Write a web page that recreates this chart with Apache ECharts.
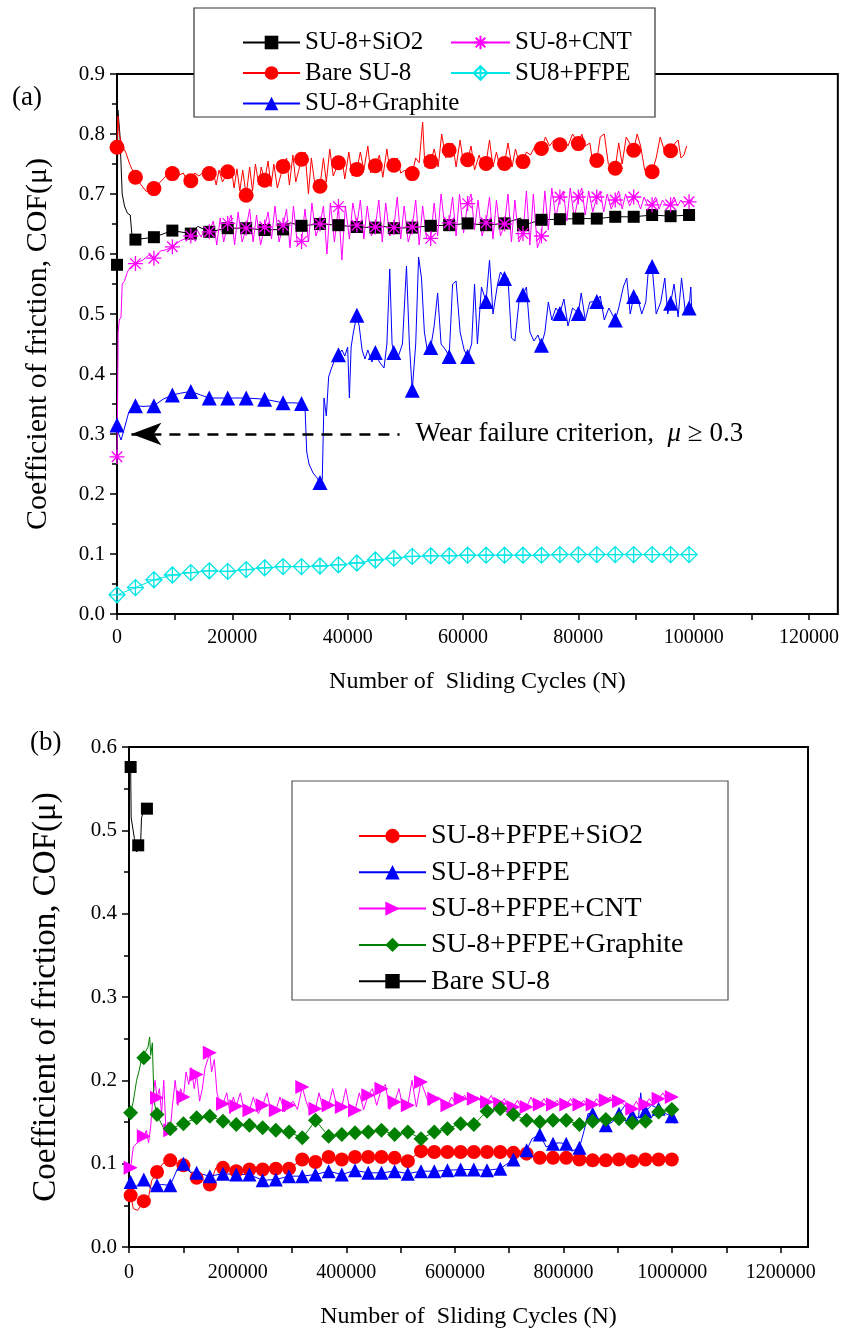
<!DOCTYPE html>
<html>
<head>
<meta charset="utf-8">
<script src="https://cdn.jsdelivr.net/npm/echarts@6/dist/echarts.min.js"></script>
<style>
html, body { margin: 0; padding: 0; background: #fff; }
#chart { width: 842px; height: 1336px; }
</style>
</head>
<body>
<div id="chart"></div>
<script>
// ---------- (a) 0 - 100000 cycles ----------
const aMarkX = [0, 3200, 6400, 9600, 12800, 16000, 19200, 22400, 25600, 28800, 32000, 35200, 38400, 41600, 44800, 48000,
  51200, 54400, 57600, 60800, 64000, 67200, 70400, 73600, 76800, 80000, 83200, 86400, 89600, 92800, 96000, 99200];

const aSio2 = [0.582, 0.624, 0.628, 0.639, 0.634, 0.637, 0.643, 0.643, 0.640, 0.641, 0.647, 0.650, 0.648, 0.645, 0.644, 0.643,
  0.644, 0.647, 0.648, 0.651, 0.648, 0.651, 0.648, 0.657, 0.658, 0.659, 0.659, 0.662, 0.662, 0.665, 0.663, 0.665];
const aSio2Trace = [[150, 0.84], [500, 0.80], [900, 0.70], [1300, 0.68], [1800, 0.668], [2300, 0.665], [2600, 0.63], [2900, 0.62],
  [14000, 0.646], [30000, 0.652], [45000, 0.648], [70000, 0.66], [99700, 0.668]];

const aBare = [0.778, 0.728, 0.709, 0.734, 0.722, 0.734, 0.737, 0.698, 0.723, 0.746, 0.758, 0.713, 0.752, 0.741, 0.747, 0.748,
  0.734, 0.754, 0.773, 0.757, 0.751, 0.751, 0.754, 0.776, 0.782, 0.784, 0.756, 0.743, 0.773, 0.737, 0.772];
const aBareTrace = [[150, 0.83], [400, 0.80], [900, 0.78], [1500, 0.77], [2200, 0.75], [4200, 0.715], [5000, 0.705], [5600, 0.703],
  [7500, 0.72], [8500, 0.73], [10500, 0.73], [11500, 0.735], [12000, 0.725], [13500, 0.735], [14200, 0.73], [15200, 0.738],
  [16600, 0.74], [17200, 0.715], [17700, 0.74], [18300, 0.72], [19800, 0.745], [20300, 0.71], [20800, 0.742], [21300, 0.705],
  [21800, 0.74], [23000, 0.745], [23500, 0.705], [24000, 0.75], [24600, 0.715], [25000, 0.745], [26200, 0.755], [26700, 0.712],
  [27200, 0.75], [27800, 0.71], [29400, 0.76], [29900, 0.715], [30500, 0.765], [31000, 0.72], [32600, 0.77], [33200, 0.70],
  [33700, 0.76], [34400, 0.71], [35800, 0.76], [36300, 0.72], [36900, 0.775], [37500, 0.73], [39000, 0.76], [39500, 0.725],
  [40200, 0.77], [40800, 0.73], [42200, 0.77], [42800, 0.74], [43500, 0.78], [44000, 0.735], [45500, 0.765], [46100, 0.728],
  [46800, 0.775], [47300, 0.74], [48600, 0.76], [49200, 0.735], [50000, 0.74], [50500, 0.725], [51800, 0.76], [52400, 0.752],
  [53000, 0.82], [53400, 0.745], [55000, 0.775], [55700, 0.745], [56300, 0.80], [57000, 0.76], [58200, 0.785], [58800, 0.745],
  [59500, 0.79], [60100, 0.75], [61400, 0.78], [62000, 0.74], [62800, 0.765], [63400, 0.745], [64600, 0.79], [65200, 0.745],
  [65800, 0.77], [66500, 0.74], [67800, 0.785], [68500, 0.745], [69100, 0.775], [69800, 0.75], [71000, 0.77], [71700, 0.765],
  [72500, 0.78], [74300, 0.795], [75000, 0.78], [75800, 0.79], [77500, 0.79], [78200, 0.78], [79000, 0.80], [80600, 0.80],
  [81200, 0.78], [82000, 0.785], [82600, 0.745], [83800, 0.795], [84500, 0.80], [85200, 0.75], [87000, 0.785], [87600, 0.75],
  [88300, 0.795], [90200, 0.80], [90800, 0.78], [91500, 0.74], [93500, 0.76], [94200, 0.795], [95000, 0.77], [96800, 0.785],
  [97300, 0.79], [97800, 0.76], [98300, 0.765], [98800, 0.78]];

const aGraphite = [0.315, 0.347, 0.347, 0.365, 0.371, 0.360, 0.360, 0.360, 0.358, 0.352, 0.351, 0.219, 0.432, 0.498, 0.436, 0.436,
  0.373, 0.444, 0.429, 0.429, 0.521, 0.559, 0.532, 0.448, 0.501, 0.501, 0.521, 0.490, 0.529, 0.579, 0.518, 0.510];
const aGraphiteTrace = [[300, 0.30], [700, 0.29], [1300, 0.31], [2000, 0.335], [2600, 0.345], [4500, 0.346], [8000, 0.358],
  [11000, 0.368], [14500, 0.365], [30500, 0.352], [32600, 0.345], [32900, 0.27], [33300, 0.25], [34000, 0.235], [34600, 0.228],
  [35600, 0.225], [35900, 0.36], [36300, 0.33], [36700, 0.395], [37200, 0.41], [37800, 0.425], [39000, 0.44], [39500, 0.43],
  [40000, 0.445], [40300, 0.36], [40600, 0.445], [41000, 0.47], [42000, 0.48], [42500, 0.44], [43000, 0.425], [43500, 0.44],
  [44200, 0.42], [45500, 0.42], [46300, 0.41], [46800, 0.45], [47300, 0.575], [47700, 0.45], [48800, 0.43], [49500, 0.45],
  [50200, 0.58], [50700, 0.45], [51800, 0.45], [52300, 0.595], [52800, 0.56], [53300, 0.47], [53800, 0.44], [55000, 0.48],
  [55600, 0.535], [56200, 0.45], [57000, 0.44], [58200, 0.55], [58800, 0.555], [59500, 0.47], [60200, 0.44], [61500, 0.45],
  [62000, 0.55], [62500, 0.45], [63200, 0.545], [64600, 0.59], [65200, 0.50], [66000, 0.55], [66500, 0.57], [67800, 0.56],
  [68400, 0.46], [69000, 0.455], [69700, 0.52], [71000, 0.545], [71600, 0.47], [72300, 0.455], [73000, 0.465], [74200, 0.47],
  [74800, 0.52], [75400, 0.49], [76100, 0.51], [77500, 0.525], [78200, 0.48], [79000, 0.51], [80500, 0.535], [81200, 0.49],
  [82000, 0.52], [83800, 0.53], [84500, 0.49], [85300, 0.51], [87000, 0.51], [87800, 0.545], [88400, 0.56], [89000, 0.50],
  [90200, 0.53], [91000, 0.50], [91700, 0.52], [92200, 0.58], [93500, 0.50], [94300, 0.52], [95000, 0.56], [95500, 0.50],
  [96600, 0.55], [97300, 0.495], [97900, 0.56], [98600, 0.50], [99500, 0.545], [99700, 0.50]];

const aCnt = [0.262, 0.584, 0.593, 0.612, 0.630, 0.637, 0.651, 0.643, 0.645, 0.648, 0.621, 0.650, 0.679, 0.648, 0.645, 0.644,
  0.645, 0.626, 0.652, 0.684, 0.652, 0.650, 0.634, 0.630, 0.695, 0.695, 0.695, 0.690, 0.695, 0.682, 0.682, 0.687];
const aCntTrace = [[100, 0.35], [200, 0.47], [400, 0.49], [700, 0.495], [900, 0.55], [1300, 0.555], [1800, 0.57], [2300, 0.578],
  [4500, 0.59], [5500, 0.598], [7500, 0.605], [8500, 0.607], [11000, 0.622], [13800, 0.642], [14600, 0.628], [15300, 0.645],
  [16700, 0.655], [17300, 0.615], [17900, 0.66], [18500, 0.62], [19800, 0.665], [20400, 0.615], [21000, 0.67], [21700, 0.62],
  [23000, 0.675], [23600, 0.62], [24200, 0.665], [24900, 0.615], [26200, 0.67], [26800, 0.625], [27400, 0.68], [28100, 0.62],
  [29400, 0.675], [30000, 0.61], [30600, 0.68], [31300, 0.615], [32600, 0.675], [33200, 0.62], [33800, 0.685], [34500, 0.63],
  [35800, 0.68], [36400, 0.60], [37000, 0.685], [37700, 0.62], [39000, 0.59], [39600, 0.68], [40300, 0.625], [40900, 0.685],
  [42200, 0.69], [42800, 0.625], [43400, 0.68], [44100, 0.63], [45400, 0.69], [46000, 0.62], [46600, 0.685], [47300, 0.63],
  [48600, 0.695], [49200, 0.625], [49800, 0.68], [50500, 0.62], [51800, 0.69], [52400, 0.615], [53000, 0.68], [53700, 0.625],
  [55000, 0.685], [55600, 0.63], [56200, 0.70], [56900, 0.64], [58200, 0.695], [58800, 0.63], [59400, 0.70], [60100, 0.635],
  [61400, 0.70], [62000, 0.64], [62600, 0.69], [63300, 0.63], [64600, 0.695], [65200, 0.625], [65800, 0.69], [66500, 0.63],
  [67800, 0.70], [68400, 0.62], [69000, 0.69], [69700, 0.62], [71000, 0.705], [71600, 0.615], [72200, 0.70], [72900, 0.61],
  [74200, 0.705], [74800, 0.64], [75400, 0.71], [76100, 0.66], [77400, 0.705], [78000, 0.655], [78600, 0.71], [79300, 0.66],
  [80600, 0.71], [81200, 0.665], [81800, 0.705], [82500, 0.67], [83800, 0.705], [84400, 0.67], [85000, 0.70], [85700, 0.675],
  [87000, 0.705], [87600, 0.675], [88200, 0.70], [88900, 0.68], [90200, 0.69], [90800, 0.675], [91400, 0.695], [92100, 0.68],
  [93400, 0.695], [94000, 0.675], [94600, 0.69], [95300, 0.68], [96600, 0.695], [97200, 0.68], [97800, 0.69], [98500, 0.68],
  [99800, 0.69]];

const aPfpe = [0.032, 0.044, 0.057, 0.065, 0.069, 0.072, 0.071, 0.074, 0.077, 0.079, 0.079, 0.080, 0.082, 0.085, 0.090, 0.093,
  0.096, 0.097, 0.097, 0.098, 0.098, 0.098, 0.098, 0.098, 0.099, 0.099, 0.099, 0.099, 0.099, 0.099, 0.099, 0.099];

const aXLabels = [0, 20000, 40000, 60000, 80000, 100000, 120000];
const aXTicks = [0, 10000, 20000, 30000, 40000, 50000, 60000, 70000, 80000, 90000, 100000, 110000, 120000];

// ---------- (b) 0 - 1000000 cycles ----------
const bMarkX = [3000, 27300, 51600, 75900, 100200, 124500, 148800, 173100, 197400, 221700, 246000, 270300, 294600, 318900,
  343200, 367500, 391800, 416100, 440400, 464700, 489000, 513300, 537600, 561900, 586200, 610500, 634800, 659100, 683400,
  707700, 732000, 756300, 780600, 804900, 829200, 853500, 877800, 902100, 926400, 950700, 975000, 999300];

const bSio2 = [0.062, 0.055, 0.090, 0.104, 0.098, 0.083, 0.075, 0.095, 0.091, 0.093, 0.093, 0.094, 0.094, 0.105, 0.102, 0.108,
  0.105, 0.108, 0.108, 0.108, 0.107, 0.103, 0.115, 0.114, 0.114, 0.114, 0.114, 0.114, 0.114, 0.113, 0.112, 0.107, 0.107, 0.107,
  0.105, 0.104, 0.104, 0.105, 0.103, 0.105, 0.105, 0.105];
const bSio2Trace = [[0, 0.065], [8000, 0.046], [16000, 0.044], [36000, 0.06], [42000, 0.08], [62000, 0.10], [88000, 0.10],
  [112000, 0.09], [135000, 0.08], [160000, 0.095], [505000, 0.10], [690000, 0.118], [720000, 0.112], [1000000, 0.105]];

const bPfpe = [0.078, 0.081, 0.074, 0.074, 0.100, 0.089, 0.085, 0.088, 0.087, 0.087, 0.080, 0.081, 0.085, 0.085, 0.087, 0.091,
  0.087, 0.092, 0.089, 0.089, 0.091, 0.088, 0.091, 0.091, 0.092, 0.093, 0.093, 0.092, 0.094, 0.105, 0.116, 0.135, 0.124, 0.124,
  0.119, 0.160, 0.146, 0.160, 0.158, 0.163, 0.166, 0.157];
const bPfpeTrace = [[0, 0.075], [12000, 0.072], [40000, 0.07], [60000, 0.075], [90000, 0.095], [112000, 0.09], [720000, 0.11],
  [742000, 0.13], [768000, 0.12], [792000, 0.125], [815000, 0.115], [838000, 0.14], [845000, 0.16], [890000, 0.15],
  [913000, 0.17], [938000, 0.155], [942000, 0.185], [946000, 0.16], [962000, 0.17], [988000, 0.16], [1005000, 0.148]];

const bCnt = [0.095, 0.133, 0.179, 0.140, 0.180, 0.207, 0.233, 0.172, 0.169, 0.164, 0.170, 0.164, 0.170, 0.192, 0.166, 0.170,
  0.168, 0.164, 0.182, 0.190, 0.174, 0.170, 0.198, 0.178, 0.170, 0.178, 0.178, 0.174, 0.172, 0.168, 0.168, 0.171, 0.171, 0.171,
  0.171, 0.171, 0.176, 0.175, 0.166, 0.171, 0.178, 0.180];
const bCntTrace = [[0, 0.095], [4000, 0.10], [8000, 0.12], [15000, 0.125], [20000, 0.13], [32000, 0.14], [36000, 0.125],
  [40000, 0.145], [44000, 0.18], [48000, 0.20], [56000, 0.19], [60000, 0.16], [64000, 0.20], [68000, 0.14], [72000, 0.15],
  [80000, 0.17], [85000, 0.20], [90000, 0.17], [95000, 0.19], [105000, 0.21], [110000, 0.195], [115000, 0.215], [120000, 0.19],
  [130000, 0.175], [135000, 0.19], [140000, 0.215], [145000, 0.225], [152000, 0.21], [157000, 0.225], [162000, 0.185],
  [166000, 0.175], [180000, 0.185], [186000, 0.16], [192000, 0.18], [205000, 0.185], [213000, 0.16], [229000, 0.18],
  [238000, 0.16], [254000, 0.185], [262000, 0.16], [278000, 0.18], [286000, 0.162], [302000, 0.175], [310000, 0.165],
  [326000, 0.175], [334000, 0.16], [350000, 0.185], [358000, 0.163], [375000, 0.19], [384000, 0.165], [399000, 0.19],
  [408000, 0.16], [424000, 0.185], [432000, 0.165], [448000, 0.19], [456000, 0.17], [472000, 0.195], [480000, 0.165],
  [497000, 0.19], [505000, 0.165], [521000, 0.20], [529000, 0.168], [545000, 0.185], [553000, 0.17], [570000, 0.18],
  [578000, 0.17], [594000, 0.18], [602000, 0.172], [618000, 0.182], [626000, 0.172], [642000, 0.18], [650000, 0.172],
  [667000, 0.182], [675000, 0.168], [691000, 0.178], [699000, 0.166], [715000, 0.176], [723000, 0.166], [740000, 0.18],
  [748000, 0.168], [764000, 0.178], [772000, 0.168], [788000, 0.176], [796000, 0.168], [813000, 0.178], [821000, 0.168],
  [837000, 0.176], [845000, 0.168], [861000, 0.178], [869000, 0.17], [886000, 0.18], [894000, 0.17], [910000, 0.172],
  [918000, 0.165], [934000, 0.175], [942000, 0.165], [958000, 0.178], [966000, 0.17], [983000, 0.185], [991000, 0.175],
  [1005000, 0.178]];

const bGraphite = [0.161, 0.227, 0.159, 0.142, 0.148, 0.155, 0.157, 0.151, 0.147, 0.146, 0.143, 0.140, 0.138, 0.131, 0.152,
  0.133, 0.135, 0.137, 0.138, 0.140, 0.135, 0.138, 0.130, 0.138, 0.142, 0.148, 0.147, 0.163, 0.166, 0.159, 0.152, 0.150, 0.152,
  0.152, 0.147, 0.151, 0.153, 0.154, 0.149, 0.151, 0.162, 0.165];
const bGraphiteTrace = [[8000, 0.175], [14000, 0.20], [18000, 0.21], [22000, 0.222], [31000, 0.235], [35000, 0.24],
  [38000, 0.252], [40000, 0.23], [43000, 0.245], [46000, 0.175], [58000, 0.15], [66000, 0.14], [330000, 0.14],
  [1005000, 0.17]];

const bBareX = [3000, 17000, 33000];
const bBare = [0.576, 0.482, 0.526];
const bBareTrace = [[4000, 0.515], [10000, 0.49], [14000, 0.474], [21000, 0.476], [23000, 0.515], [28000, 0.525]];

const bXLabels = [0, 200000, 400000, 600000, 800000, 1000000, 1200000];
const bXTicks = [0, 100000, 200000, 300000, 400000, 500000, 600000, 700000, 800000, 900000, 1000000, 1100000, 1200000];

// ---------- helpers ----------
const FONT = 'Liberation Serif';

// merge marker points (with symbol) and trace points (line only), sorted by x
function build(markX, markY, trace) {
  const pts = markY.map((y, i) => ({ value: [markX[i], y], mark: true }));
  (trace || []).forEach(p => pts.push({ value: p, mark: false }));
  pts.sort((p, q) => p.value[0] - q.value[0]);
  return pts.map(p => p.mark ? { value: p.value } : { value: p.value, symbol: 'none' });
}

function series(name, data, color, symbol, size, gi, hollow) {
  return {
    name: name,
    type: 'line',
    xAxisIndex: gi,
    yAxisIndex: gi,
    data: data,
    symbol: symbol,
    symbolSize: size,
    showAllSymbol: true,
    animation: false,
    lineStyle: { color: color, width: 1 },
    itemStyle: hollow
      ? { color: 'rgba(255,255,255,0)', borderColor: color, borderWidth: 1.3 }
      : { color: color },
    emphasis: { disabled: true }
  };
}

const ASTER = 'path://M10,0 L10,20 M0,10 L20,10 M3,3 L17,17 M3,17 L17,3';
const DIAMOND_X = 'path://M10,0 L20,10 L10,20 L0,10 Z M10,0 L10,20 M0,10 L20,10';
const RTRI = 'path://M0,0 L20,10 L0,20 Z';

function xAxis(gi, max, labels, ticks, margin, nameGap) {
  return {
    gridIndex: gi, type: 'value', min: 0, max: max,
    name: 'Number of  Sliding Cycles (N)', nameLocation: 'middle', nameGap: nameGap,
    nameTextStyle: { fontFamily: FONT, fontSize: 24, color: '#000' },
    axisLine: { show: true, lineStyle: { color: '#000', width: 2 } },
    axisTick: { show: true, inside: false, length: 6, customValues: ticks, lineStyle: { color: '#000', width: 1.5 } },
    axisLabel: { customValues: labels, margin: margin, fontFamily: FONT, fontSize: 20, color: '#000',
      formatter: v => String(v) },
    splitLine: { show: false }
  };
}

function yAxis(gi, max, nameGap, nameSize) {
  return {
    gridIndex: gi, type: 'value', min: 0, max: max, interval: 0.1,
    name: 'Coefficient of friction, COF(\u03bc)', nameLocation: 'middle', nameGap: nameGap,
    nameTextStyle: { fontFamily: FONT, fontSize: nameSize, color: '#000' },
    axisLine: { show: true, onZero: false, lineStyle: { color: '#000', width: 2 } },
    axisTick: { show: true, inside: false, length: 7, lineStyle: { color: '#000', width: 1.5 } },
    minorTick: { show: true, splitNumber: 2, length: 5, lineStyle: { color: '#000', width: 1.5 } },
    axisLabel: { margin: 12, fontFamily: FONT, fontSize: 21, color: '#000', formatter: v => v.toFixed(1) },
    splitLine: { show: false }
  };
}

function legend(left, top, names, itemW, itemH, fontSize, gap) {
  return {
    left: left, top: top, orient: 'vertical', data: names,
    itemWidth: itemW, itemHeight: itemH, itemGap: gap, padding: 0, z: 20,
    selectedMode: false,
    textStyle: { fontFamily: FONT, fontSize: fontSize, color: '#000', lineHeight: fontSize }
  };
}

const chart = echarts.init(document.getElementById('chart'), null, { renderer: 'canvas' });

const criterion = {
  name: 'criterion', type: 'line', xAxisIndex: 0, yAxisIndex: 0, data: [], animation: false,
  markLine: {
    silent: true,
    symbol: ['arrow', 'none'],
    symbolSize: [17, 30],
    lineStyle: { color: '#000', width: 2.5, type: [11, 8] },
    label: {
      show: true, position: 'end', distance: 16,
      formatter: '{t|Wear failure criterion,  }{m|\u03bc}{t| \u2265 0.3}',
      rich: {
        t: { fontFamily: FONT, fontSize: 27, color: '#000' },
        m: { fontFamily: FONT, fontSize: 27, color: '#000', fontStyle: 'italic' }
      }
    },
    data: [[{ coord: [2500, 0.3] }, { coord: [49000, 0.3] }]]
  }
};

chart.setOption({
  backgroundColor: '#fff',
  animation: false,
  grid: [
    { left: 117, top: 74, width: 722, height: 540, show: true, borderColor: '#000', borderWidth: 2, backgroundColor: 'transparent' },
    { left: 129, top: 747, width: 679, height: 500, show: true, borderColor: '#000', borderWidth: 2, backgroundColor: 'transparent' }
  ],
  xAxis: [
    xAxis(0, 125000, aXLabels, aXTicks, 14, 56),
    xAxis(1, 1250000, bXLabels, bXTicks, 16, 58)
  ],
  yAxis: [
    yAxis(0, 0.9, 64, 30),
    yAxis(1, 0.6, 66, 33)
  ],
  legend: [
    legend(242, 30, ['SU-8+SiO2', 'Bare SU-8', 'SU-8+Graphite'], 57, 17, 25, 5.5),
    legend(450, 30, ['SU-8+CNT', 'SU8+PFPE'], 59, 17, 25, 5.5),
    legend(358, 822, ['SU-8+PFPE+SiO2', 'SU-8+PFPE', 'SU-8+PFPE+CNT', 'SU-8+PFPE+Graphite', 'Bare SU-8 '], 67, 18, 28, 8.3)
  ],
  graphic: [
    { type: 'rect', z: 10, shape: { x: 194, y: 8, width: 461, height: 109 },
      style: { fill: '#fff', stroke: '#333', lineWidth: 1.2 } },
    { type: 'rect', z: 10, shape: { x: 292, y: 781, width: 436, height: 219 },
      style: { fill: '#fff', stroke: '#555', lineWidth: 1.2 } },
    { type: 'text', z: 10, left: 12, top: 84, style: { text: '(a)', fontFamily: FONT, fontSize: 27, fill: '#000' } },
    { type: 'text', z: 10, left: 30, top: 729, style: { text: '(b)', fontFamily: FONT, fontSize: 27, fill: '#000' } }
  ],
  series: [
    series('SU-8+SiO2', build(aMarkX, aSio2, aSio2Trace), '#000000', 'rect', 12, 0),
    series('Bare SU-8', build(aMarkX, aBare, aBareTrace), '#ff0000', 'circle', 15, 0),
    series('SU-8+Graphite', build(aMarkX, aGraphite, aGraphiteTrace), '#0000ff', 'triangle', 15, 0),
    series('SU-8+CNT', build(aMarkX, aCnt, aCntTrace), '#ff00ff', ASTER, 15, 0, true),
    series('SU8+PFPE', build(aMarkX, aPfpe, []), '#00e5e5', DIAMOND_X, 16, 0, true),
    criterion,
    series('SU-8+PFPE+SiO2', build(bMarkX, bSio2, bSio2Trace), '#ff0000', 'circle', 14, 1),
    series('SU-8+PFPE', build(bMarkX, bPfpe, bPfpeTrace), '#0000ff', 'triangle', 14, 1),
    series('SU-8+PFPE+CNT', build(bMarkX, bCnt, bCntTrace), '#ff00ff', RTRI, 14, 1),
    series('SU-8+PFPE+Graphite', build(bMarkX, bGraphite, bGraphiteTrace), '#008000', 'diamond', 15, 1),
    series('Bare SU-8 ', build(bBareX, bBare, bBareTrace), '#000000', 'rect', 12, 1)
  ]
});
</script>
</body>
</html>
